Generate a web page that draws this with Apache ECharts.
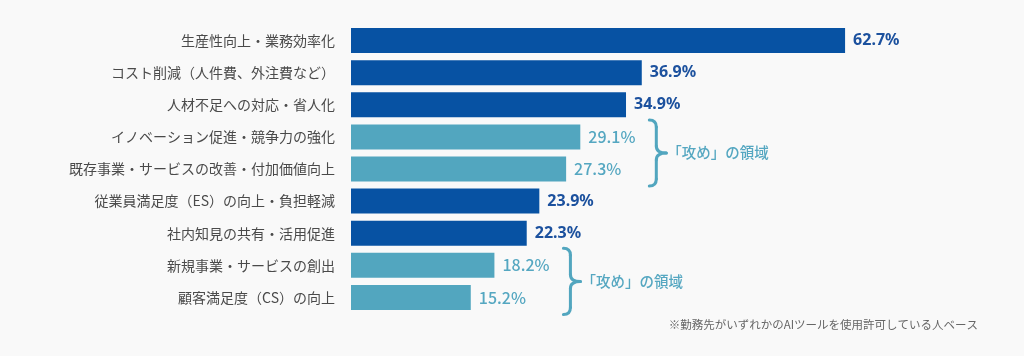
<!DOCTYPE html>
<html>
<head>
<meta charset="utf-8">
<script src="https://cdn.jsdelivr.net/npm/echarts@6/dist/echarts.min.js"></script>
<style>
html,body{margin:0;padding:0;background:#f9f9f9;}
#chart{width:1024px;height:356px;}
</style>
</head>
<body>
<div id="chart"></div>
<script>
var categories = [
  '生産性向上・業務効率化',
  'コスト削減（人件費、外注費など）',
  '人材不足への対応・省人化',
  'イノベーション促進・競争力の強化',
  '既存事業・サービスの改善・付加価値向上',
  '従業員満足度（ES）の向上・負担軽減',
  '社内知見の共有・活用促進',
  '新規事業・サービスの創出',
  '顧客満足度（CS）の向上'
];
var values = [62.7, 36.9, 34.9, 29.1, 27.3, 23.9, 22.3, 18.2, 15.2];
var groups = ['core', 'core', 'core', 'attack', 'attack', 'core', 'core', 'attack', 'attack'];
var braceGroups = [[3, 4], [7, 8]];
var braceLabel = '「攻め」の領域';
var footnote = '※勤務先がいずれかのAIツールを使用許可している人ベース';

var FONT = '"Noto Sans CJK JP", "Noto Sans", sans-serif';
var colors = {
  core: { bar: '#0752a3', label: '#1c519e', weight: 'bold', font: '"Noto Sans", "Noto Sans CJK JP", sans-serif' },
  attack: { bar: '#52a6bf', label: '#55a7c1', weight: 500, font: '"Noto Sans CJK JP", "Noto Sans", sans-serif' }
};

var chart = echarts.init(document.getElementById('chart'), null, { renderer: 'canvas' });

var data = values.map(function (v, i) {
  var c = colors[groups[i]];
  return {
    value: v,
    itemStyle: { color: c.bar },
    label: { color: c.label, fontWeight: c.weight, fontFamily: c.font }
  };
});

chart.setOption({
  backgroundColor: '#f9f9f9',
  animation: false,
  grid: { left: 351, top: 24.5, width: 630.4, height: 289, containLabel: false },
  xAxis: {
    type: 'value', min: 0, max: 80,
    show: false
  },
  yAxis: {
    type: 'category', data: categories, inverse: true,
    axisLine: { show: false }, axisTick: { show: false },
    axisLabel: { margin: 16, color: '#4a4a4a', fontSize: 14, fontFamily: FONT }
  },
  series: [{
    type: 'bar',
    data: data,
    barWidth: 25,
    label: {
      show: true, position: 'right', distance: 8,
      fontSize: 16,
      formatter: function (p) { return p.value.toFixed(1) + '%'; }
    }
  }]
});

function drawBraces() {
  var els = [];
  var st = { stroke: '#52a6bf', lineWidth: 3, lineCap: 'round', fill: null };
  braceGroups.forEach(function (g) {
    var i = g[0], j = g[g.length - 1];
    var maxV = Math.max.apply(null, g.map(function (k) { return values[k]; }));
    var x0 = chart.convertToPixel({ xAxisIndex: 0 }, maxV) + 69;
    var yTop = chart.convertToPixel({ yAxisIndex: 0 }, categories[i]) - 17;
    var yBot = chart.convertToPixel({ yAxisIndex: 0 }, categories[j]) + 17;
    var yMid = (yTop + yBot) / 2;
    var a = 7, w = 17, r = 7;
    var xa = x0 + a;
    els.push({ type: 'bezierCurve', shape: { x1: x0, y1: yTop, cpx1: xa, cpy1: yTop, x2: xa, y2: yTop + r }, style: st });
    els.push({ type: 'line', shape: { x1: xa, y1: yTop + r, x2: xa, y2: yMid - r }, style: st });
    els.push({ type: 'bezierCurve', shape: { x1: xa, y1: yMid - r, cpx1: xa, cpy1: yMid, x2: x0 + w, y2: yMid }, style: st });
    els.push({ type: 'bezierCurve', shape: { x1: x0 + w, y1: yMid, cpx1: xa, cpy1: yMid, x2: xa, y2: yMid + r }, style: st });
    els.push({ type: 'line', shape: { x1: xa, y1: yMid + r, x2: xa, y2: yBot - r }, style: st });
    els.push({ type: 'bezierCurve', shape: { x1: xa, y1: yBot - r, cpx1: xa, cpy1: yBot, x2: x0, y2: yBot }, style: st });
    els.push({
      type: 'text',
      x: x0 + w + 1, y: yMid,
      style: {
        text: braceLabel, fill: '#55a7c1', fontSize: 14.5, fontWeight: 500,
        fontFamily: FONT, verticalAlign: 'middle', align: 'left'
      }
    });
  });
  els.push({
    type: 'text',
    right: 46, top: 319,
    style: { text: footnote, fill: '#666666', fontSize: 11.5, fontFamily: FONT }
  });
  chart.setOption({ graphic: els });
}
drawBraces();
</script>
</body>
</html>
